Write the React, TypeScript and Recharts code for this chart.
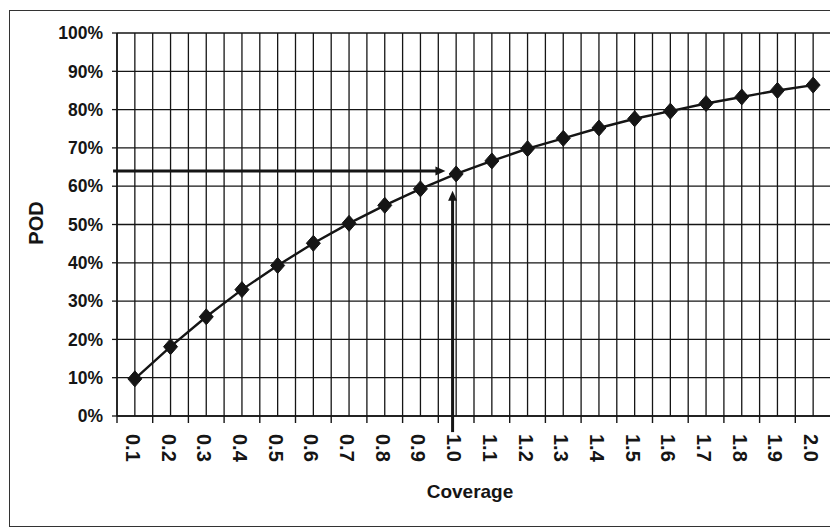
import React from "react";
import { LineChart, Line, XAxis, YAxis, CartesianGrid, ReferenceLine } from "recharts";

const coverage = [0.1, 0.2, 0.3, 0.4, 0.5, 0.6, 0.7, 0.8, 0.9, 1.0, 1.1, 1.2, 1.3, 1.4, 1.5, 1.6, 1.7, 1.8, 1.9, 2.0];
const coverageLabels = ["0.1", "0.2", "0.3", "0.4", "0.5", "0.6", "0.7", "0.8", "0.9", "1.0", "1.1", "1.2", "1.3", "1.4", "1.5", "1.6", "1.7", "1.8", "1.9", "2.0"];
const pod = [9.7, 18.1, 25.9, 33.0, 39.3, 45.1, 50.3, 55.0, 59.3, 63.2, 66.6, 69.8, 72.5, 75.2, 77.6, 79.6, 81.6, 83.3, 85.0, 86.4];
const podTicks = [0, 10, 20, 30, 40, 50, 60, 70, 80, 90, 100];
const hArrow = [{ x: 0.039, y: 64 }, { x: 0.97, y: 64 }];
const vArrow = [{ x: 0.99, y: -4.2 }, { x: 0.99, y: 58.8 }];

const data = coverage.map((c, i) => ({ coverage: c, pod: pod[i] }));
const gridTicks: number[] = [];
coverage.forEach((c) => {
  gridTicks.push(Math.round((c - 0.05) * 100) / 100, c);
});
gridTicks.push(Math.round((coverage[coverage.length - 1] + 0.05) * 100) / 100);

const FONT = '"Liberation Sans", Arial, sans-serif';
const INK = "#151515";

const XTick = (props: any) => {
  const { x, y, payload } = props;
  const idx = coverage.indexOf(payload.value);
  if (idx >= 0) {
    return (
      <g transform={`translate(${x},${y}) rotate(90)`}>
        <text x={18} y={9} textAnchor="start" fontFamily={FONT} fontWeight="bold" fontSize={20} fill={INK}>
          {coverageLabels[idx]}
        </text>
      </g>
    );
  }
  return <line x1={x} y1={y} x2={x} y2={y + 7} stroke={INK} strokeWidth={1.4} />;
};

const Diamond = (props: any) => {
  const { cx, cy } = props;
  if (cx == null || cy == null) return null;
  return <polygon points={`${cx},${cy - 8} ${cx + 7},${cy} ${cx},${cy + 8} ${cx - 7},${cy}`} fill={INK} stroke={INK} strokeWidth={1} />;
};

const Arrow = (props: any) => {
  const { x1, y1, x2, y2 } = props;
  const dx = x2 - x1;
  const dy = y2 - y1;
  const len = Math.sqrt(dx * dx + dy * dy) || 1;
  const ux = dx / len;
  const uy = dy / len;
  const hl = 10;
  const hw = 4.5;
  const bx = x2 - ux * hl;
  const by = y2 - uy * hl;
  const px = -uy;
  const py = ux;
  return (
    <g>
      <line x1={x1} y1={y1} x2={bx + ux * 1} y2={by + uy * 1} stroke={INK} strokeWidth={3} />
      <polygon points={`${x2},${y2} ${bx + px * hw},${by + py * hw} ${bx - px * hw},${by - py * hw}`} fill={INK} />
    </g>
  );
};

export default function App() {
  return (
    <div style={{ position: "relative", width: 838, height: 532 }}>
      <div
        style={{
          position: "absolute",
          left: 1,
          top: 2,
          width: 826,
          height: 517,
          border: "1.5px solid #333",
          boxSizing: "border-box",
        }}
      />
      <div style={{ position: "absolute", left: -8, top: -8 }}>
        <LineChart width={838} height={532} data={data} margin={{ top: 33, right: 7, left: 57, bottom: 56 }}>
          <CartesianGrid stroke={INK} strokeWidth={1.3} strokeOpacity={1} />
          <XAxis
            dataKey="coverage"
            type="number"
            domain={[0.05, 2.05]}
            ticks={gridTicks}
            interval={0}
            tick={<XTick />}
            tickLine={false}
            tickSize={0}
            tickMargin={0}
            height={60}
            axisLine={{ stroke: INK, strokeWidth: 1.5 }}
            allowDataOverflow
            label={{
              content: (p: any) => {
                const vb = p.viewBox;
                return (
                  <text x={vb.x + vb.width / 2 - 4} y={vb.y + 82} textAnchor="middle" fontFamily={FONT} fontWeight="bold" fontSize={19} fill={INK}>
                    Coverage
                  </text>
                );
              },
            }}
          />
          <YAxis
            type="number"
            domain={[0, 100]}
            ticks={podTicks}
            interval={0}
            width={60}
            tickFormatter={(v: number) => `${v}%`}
            tick={{ fontFamily: FONT, fontWeight: "bold", fontSize: 17.5, fill: INK }}
            tickSize={5}
            tickMargin={9}
            tickLine={{ stroke: INK, strokeWidth: 1.3 }}
            axisLine={{ stroke: INK, strokeWidth: 1.5 }}
            label={{
              content: (p: any) => {
                const vb = p.viewBox;
                const cx = vb.x - 14;
                const cy = 223;
                return (
                  <text x={cx} y={cy} transform={`rotate(-90, ${cx}, ${cy})`} textAnchor="middle" fontFamily={FONT} fontWeight="bold" fontSize={20} fill={INK}>
                    POD
                  </text>
                );
              },
            }}
          />
          <Line
            type="linear"
            dataKey="pod"
            stroke={INK}
            strokeWidth={2.4}
            dot={<Diamond />}
            activeDot={false}
            isAnimationActive={false}
          />
          <ReferenceLine segment={hArrow} ifOverflow="visible" shape={<Arrow />} />
          <ReferenceLine segment={vArrow} ifOverflow="visible" shape={<Arrow />} />
        </LineChart>
      </div>
    </div>
  );
}
